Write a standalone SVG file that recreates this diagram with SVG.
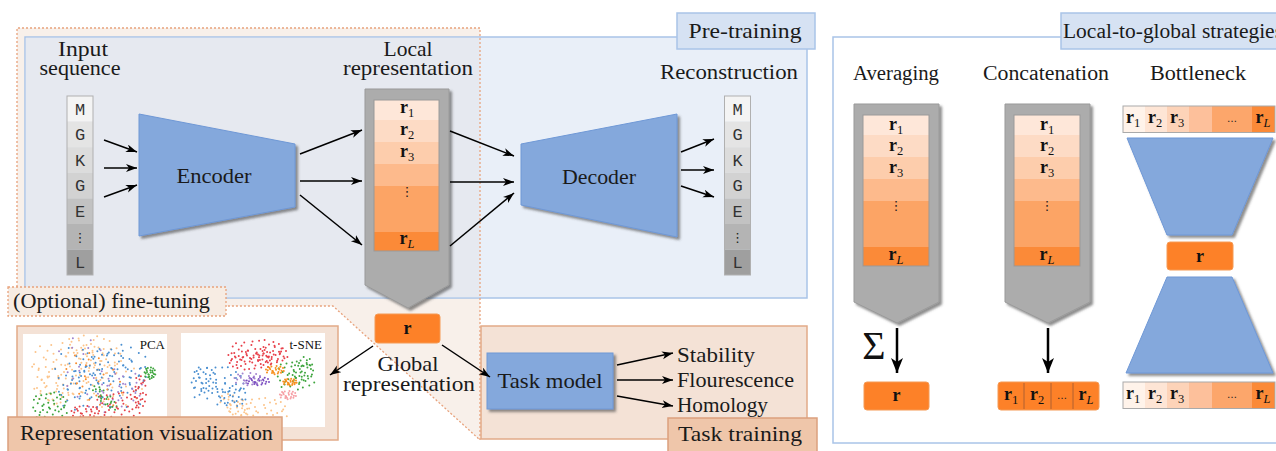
<svg xmlns="http://www.w3.org/2000/svg" xmlns:xlink="http://www.w3.org/1999/xlink" width="1276" height="451" viewBox="0 0 1276 451">
<defs>
<marker id="ah" markerUnits="userSpaceOnUse" markerWidth="12" markerHeight="10" refX="11" refY="4" orient="auto"><path d="M0,0 L11,4 L0,8 L3,4z" fill="#000"/></marker>
<marker id="ahb" markerUnits="userSpaceOnUse" markerWidth="16" markerHeight="14" refX="15" refY="6" orient="auto"><path d="M0,0 L15,6 L0,12 L4,6z" fill="#000"/></marker>
<filter id="sh" x="-10%" y="-10%" width="130%" height="130%"><feDropShadow dx="2.5" dy="2.5" stdDeviation="1" flood-color="#444" flood-opacity="0.6"/></filter>
<path id="cA" stroke-width="2" stroke-linecap="round" fill="none" vector-effect="non-scaling-stroke" d="M-3 5h0M12-8h0M-20 14h0M25 20h0M-35-10h0M8 30h0M-12-28h0M30-25h0M40 5h0M-42 18h0M18 42h0M-25-38h0M2-45h0M-8 22h0M22 2h0M-18-5h0M35 35h0M-30 32h0M45-15h0M-46-22h0M10-20h0M-5-12h0M28-40h0M-38 40h0M15 15h0M-22 0h0M5 48h0M-48 5h0M38-32h0M-15 38h0M32 12h0M-10-42h0M20-30h0M-30-25h0M0 10h0M48 25h0M-40-35h0M12-48h0M-28 22h0M42-2h0"/>
<path id="cB" stroke-width="2" stroke-linecap="round" fill="none" vector-effect="non-scaling-stroke" d="M5-3h0M-14 9h0M20-16h0M-27-20h0M33 8h0M-6 27h0M14 36h0M-36 3h0M27-33h0M-18-36h0M3-20h0M-40 25h0M40-20h0M-10 12h0M17 20h0M-24-8h0M8-40h0M30 28h0M-33-30h0M-2 42h0M44 10h0M-45-6h0M22-4h0M-15 30h0"/>
<clipPath id="cpP"><rect x="23" y="334" width="144" height="90"/></clipPath>
<clipPath id="cpT"><rect x="181" y="333" width="144" height="94"/></clipPath>
<g id="seqcells">
<rect x="0" y="0" width="26" height="25.6" fill="#f4f4f4"/>
<rect x="0" y="25.6" width="26" height="25.6" fill="#e4e4e4"/>
<rect x="0" y="51.2" width="26" height="25.6" fill="#dcdcdc"/>
<rect x="0" y="76.8" width="26" height="25.6" fill="#d2d2d2"/>
<rect x="0" y="102.4" width="26" height="25.6" fill="#c2c2c2"/>
<rect x="0" y="128" width="26" height="25.6" fill="#b4b4b4"/>
<rect x="0" y="153.6" width="26" height="25.4" fill="#9f9f9f"/>
<rect x="0" y="0" width="26" height="179" fill="none" stroke="#b0b0b0" stroke-width="1"/>
</g>
<g id="colcells">
<rect x="0" y="0" width="66" height="20" fill="#fee7d9"/>
<rect x="0" y="20" width="66" height="22" fill="#fddbc5"/>
<rect x="0" y="42" width="66" height="22" fill="#fdcdac"/>
<rect x="0" y="64" width="66" height="22" fill="#fdba8c"/>
<rect x="0" y="86" width="66" height="46" fill="#fca465"/>
<rect x="0" y="132" width="66" height="19" fill="#fb8a38"/>
<rect x="0" y="0" width="66" height="151" fill="none" stroke="#999" stroke-width="1"/>
</g>
<g id="barcells">
<rect x="0" y="0" width="22" height="26.5" fill="#fff3ea"/>
<rect x="22" y="0" width="22" height="26.5" fill="#fee5d5"/>
<rect x="44" y="0" width="22" height="26.5" fill="#fdd3b8"/>
<rect x="66" y="0" width="23" height="26.5" fill="#fdc09b"/>
<rect x="89" y="0" width="40" height="26.5" fill="#fca66b"/>
<rect x="129" y="0" width="23" height="26.5" fill="#fb8a38"/>
<rect x="0" y="0" width="152" height="26.5" fill="none" stroke="#aaa" stroke-width="1"/>
</g>
</defs>

<g id="finetune-region">
<polygon points="17,28 480,28 480,440 333,306 226,306 226,287 17,287" fill="#f8f0ea"/>
</g>
<g id="pretraining">
<rect x="25" y="37" width="782" height="261" fill="#e9eff8" stroke="#a9c4e8" stroke-width="1.5"/>
<rect x="25.8" y="37.8" width="453.7" height="259.4" fill="#e6e9f0"/>
<path d="M17,287 V28 H480 V440 L333,306 H226" fill="none" stroke="#e8a27c" stroke-width="1.3" stroke-dasharray="2 2"/>
<rect x="677" y="13" width="138" height="36" fill="#d6e2f3" stroke="#a9c4e8" stroke-width="1.5"/>
<text x="745" y="38" font-family="Liberation Serif" font-size="21" fill="#1a1a1a" text-anchor="middle" textLength="113" lengthAdjust="spacingAndGlyphs">Pre-training</text>
</g>

<g id="finetune-label">
<rect x="8" y="287" width="218" height="29" fill="#f7ece3" stroke="#e8a27c" stroke-width="1.3" stroke-dasharray="2 2"/>
<text x="13" y="308" font-family="Liberation Serif" font-size="21" fill="#1a1a1a" textLength="197" lengthAdjust="spacingAndGlyphs">(Optional) fine-tuning</text>
</g>

<g id="input">
<text x="83" y="56" font-family="Liberation Serif" font-size="21" fill="#1a1a1a" text-anchor="middle" textLength="50" lengthAdjust="spacingAndGlyphs">Input</text>
<text x="80" y="75" font-family="Liberation Serif" font-size="21" fill="#1a1a1a" text-anchor="middle" textLength="81" lengthAdjust="spacingAndGlyphs">sequence</text>
<use xlink:href="#seqcells" x="67" y="96"/>
<text x="80" y="114.5" font-family="Liberation Mono" font-size="17" fill="#333" text-anchor="middle">M</text>
<text x="80" y="140" font-family="Liberation Mono" font-size="17" fill="#333" text-anchor="middle">G</text>
<text x="80" y="165.5" font-family="Liberation Mono" font-size="17" fill="#333" text-anchor="middle">K</text>
<text x="80" y="191" font-family="Liberation Mono" font-size="17" fill="#333" text-anchor="middle">G</text>
<text x="80" y="216.5" font-family="Liberation Mono" font-size="17" fill="#333" text-anchor="middle">E</text>
<text x="80" y="242" font-family="DejaVu Sans" font-size="13" fill="#222" text-anchor="middle">⋮</text>
<text x="80" y="268" font-family="Liberation Mono" font-size="17" fill="#333" text-anchor="middle">L</text>
</g>

<g id="encoder">
<polygon filter="url(#sh)" points="139,114 295,144 295,207 139,236" fill="#84a8dc" stroke="#6f98d6" stroke-width="1"/>
<text x="214" y="183" font-family="Liberation Serif" font-size="21" fill="#1a1a1a" text-anchor="middle" textLength="75" lengthAdjust="spacingAndGlyphs">Encoder</text>
</g>

<g id="local-rep">
<text x="408" y="56" font-family="Liberation Serif" font-size="21" fill="#1a1a1a" text-anchor="middle" textLength="49" lengthAdjust="spacingAndGlyphs">Local</text>
<text x="408" y="75" font-family="Liberation Serif" font-size="21" fill="#1a1a1a" text-anchor="middle" textLength="130" lengthAdjust="spacingAndGlyphs">representation</text>
<polygon filter="url(#sh)" points="365,89 449,89 449,285 408,308 365,285" fill="#acacac" stroke="#9a9a9a" stroke-width="1"/>
<use xlink:href="#colcells" transform="translate(374,100) scale(0.985,1)"/>
<text x="407" y="113" font-family="Liberation Serif" font-size="18" font-weight="bold" fill="#111" text-anchor="middle">r<tspan font-size="12.5" font-weight="normal" dy="4">1</tspan></text>
<text x="407" y="135" font-family="Liberation Serif" font-size="18" font-weight="bold" fill="#111" text-anchor="middle">r<tspan font-size="12.5" font-weight="normal" dy="4">2</tspan></text>
<text x="407" y="157" font-family="Liberation Serif" font-size="18" font-weight="bold" fill="#111" text-anchor="middle">r<tspan font-size="12.5" font-weight="normal" dy="4">3</tspan></text>
<text x="407" y="196" font-family="DejaVu Sans" font-size="13" fill="#222" text-anchor="middle">⋮</text>
<text x="407" y="244" font-family="Liberation Serif" font-size="18" font-weight="bold" fill="#111" text-anchor="middle">r<tspan font-size="12.5" font-weight="normal" font-style="italic" dy="4">L</tspan></text>
</g>

<g id="decoder">
<polygon filter="url(#sh)" points="521,144 677,114 677,237 521,205" fill="#84a8dc" stroke="#6f98d6" stroke-width="1"/>
<text x="599" y="184" font-family="Liberation Serif" font-size="21" fill="#1a1a1a" text-anchor="middle" textLength="74" lengthAdjust="spacingAndGlyphs">Decoder</text>
</g>

<g id="reconstruction">
<text x="729" y="79" font-family="Liberation Serif" font-size="21" fill="#1a1a1a" text-anchor="middle" textLength="138" lengthAdjust="spacingAndGlyphs">Reconstruction</text>
<use xlink:href="#seqcells" x="724.5" y="96"/>
<text x="737.5" y="114.5" font-family="Liberation Mono" font-size="17" fill="#333" text-anchor="middle">M</text>
<text x="737.5" y="140" font-family="Liberation Mono" font-size="17" fill="#333" text-anchor="middle">G</text>
<text x="737.5" y="165.5" font-family="Liberation Mono" font-size="17" fill="#333" text-anchor="middle">K</text>
<text x="737.5" y="191" font-family="Liberation Mono" font-size="17" fill="#333" text-anchor="middle">G</text>
<text x="737.5" y="216.5" font-family="Liberation Mono" font-size="17" fill="#333" text-anchor="middle">E</text>
<text x="737.5" y="242" font-family="DejaVu Sans" font-size="13" fill="#222" text-anchor="middle">⋮</text>
<text x="737.5" y="268" font-family="Liberation Mono" font-size="17" fill="#333" text-anchor="middle">L</text>
</g>

<g id="rep-viz">
<rect x="17" y="326" width="321" height="114" fill="#f4e2d6" stroke="#e2aa88" stroke-width="1.5"/>
<rect x="23" y="334" width="144" height="90" fill="#fff"/>
<rect x="181" y="333" width="144" height="94" fill="#fff"/>
<g clip-path="url(#cpP)">
<use xlink:href="#cA" stroke="#fcc48a" transform="translate(70,362) scale(0.75,0.45)"/>
<use xlink:href="#cA" stroke="#fcc48a" transform="translate(95,352) rotate(30) scale(0.6,0.35)"/>
<use xlink:href="#cB" stroke="#fcc48a" transform="translate(55,390) scale(0.4,0.35)"/>
<use xlink:href="#cB" stroke="#fcc48a" transform="translate(110,385) rotate(90) scale(0.5,0.8)"/>
<use xlink:href="#cA" stroke="#fcc48a" transform="translate(65,375) rotate(70) scale(0.5,0.7)"/>
<use xlink:href="#cA" stroke="#4a8fd0" transform="translate(100,378) rotate(15) scale(0.95,0.6)"/>
<use xlink:href="#cB" stroke="#4a8fd0" transform="translate(115,368) rotate(200) scale(0.7,0.45)"/>
<use xlink:href="#cB" stroke="#4a8fd0" transform="translate(80,385) rotate(120) scale(0.6,0.4)"/>
<use xlink:href="#cA" stroke="#4a8fd0" transform="translate(110,372) rotate(250) scale(0.45,0.8)"/>
<use xlink:href="#cB" stroke="#a283cf" transform="translate(90,375) rotate(60) scale(0.9,0.6)"/>
<use xlink:href="#cB" stroke="#a283cf" transform="translate(120,390) rotate(160) scale(0.5,0.4)"/>
<use xlink:href="#cA" stroke="#3ea53e" transform="translate(50,406) scale(0.35,0.28)"/>
<use xlink:href="#cB" stroke="#3ea53e" transform="translate(150,373) scale(0.12,0.14)"/>
<use xlink:href="#cB" stroke="#3ea53e" transform="translate(105,398) rotate(45) scale(0.35,0.12)"/>
<use xlink:href="#cA" stroke="#e5444a" transform="translate(118,406) scale(0.45,0.28)"/>
<use xlink:href="#cB" stroke="#e5444a" transform="translate(140,392) rotate(90) scale(0.35,0.15)"/>
<use xlink:href="#cB" stroke="#e5444a" transform="translate(85,412) scale(0.3,0.15)"/>
<use xlink:href="#cB" stroke="#f88d30" transform="translate(95,380) rotate(45) scale(0.7,0.5)"/>
</g>
<g clip-path="url(#cpT)">
<use xlink:href="#cA" stroke="#fcc48a" transform="translate(258,410) scale(0.6,0.25)"/>
<use xlink:href="#cB" stroke="#fcc48a" transform="translate(235,405) rotate(30) scale(0.35,0.2)"/>
<use xlink:href="#cA" stroke="#e8404a" transform="translate(258,352) scale(0.55,0.25)"/>
<use xlink:href="#cA" stroke="#e8404a" transform="translate(250,360) rotate(180) scale(0.45,0.2)"/>
<use xlink:href="#cB" stroke="#e8404a" transform="translate(272,355) scale(0.35,0.2)"/>
<use xlink:href="#cA" stroke="#4a8fd0" transform="translate(218,385) rotate(10) scale(0.55,0.4)"/>
<use xlink:href="#cB" stroke="#4a8fd0" transform="translate(232,395) rotate(100) scale(0.25,0.35)"/>
<use xlink:href="#cB" stroke="#4a8fd0" transform="translate(205,380) scale(0.25,0.3)"/>
<use xlink:href="#cA" stroke="#3ea53e" transform="translate(296,375) scale(0.38,0.3)"/>
<use xlink:href="#cB" stroke="#3ea53e" transform="translate(302,370) rotate(120) scale(0.3,0.2)"/>
<use xlink:href="#cB" stroke="#7a4cc0" transform="translate(258,381) scale(0.25,0.1)"/>
<use xlink:href="#cB" stroke="#a283cf" transform="translate(248,379) scale(0.3,0.15)"/>
<use xlink:href="#cB" stroke="#f7901e" transform="translate(275,370) scale(0.2,0.1)"/>
<use xlink:href="#cB" stroke="#f7901e" transform="translate(290,382) scale(0.15,0.08)"/>
<use xlink:href="#cB" stroke="#f6a0a6" transform="translate(288,395) scale(0.18,0.1)"/>
</g>
<text x="165" y="349" font-family="Liberation Serif" font-size="13" fill="#111" text-anchor="end">PCA</text>
<text x="322" y="349" font-family="Liberation Serif" font-size="13" fill="#111" text-anchor="end">t-SNE</text>
<rect x="8" y="417" width="274" height="36" fill="#efc6aa" stroke="#dba07e" stroke-width="1.5"/>
<text x="20" y="440" font-family="Liberation Serif" font-size="21" fill="#1a1a1a" textLength="253" lengthAdjust="spacingAndGlyphs">Representation visualization</text>
</g>

<g id="global-r">
<rect x="375" y="314" width="65" height="29" rx="3" fill="#fd8128" stroke="#f59a55" stroke-width="1"/>
<text x="407.5" y="334" font-family="Liberation Serif" font-size="18" font-weight="bold" fill="#111" text-anchor="middle">r</text>
<text x="408" y="371" font-family="Liberation Serif" font-size="21" fill="#1a1a1a" text-anchor="middle" textLength="61" lengthAdjust="spacingAndGlyphs">Global</text>
<text x="409" y="391" font-family="Liberation Serif" font-size="21" fill="#1a1a1a" text-anchor="middle" textLength="132" lengthAdjust="spacingAndGlyphs">representation</text>
</g>

<g id="task-training">
<rect x="481" y="326" width="326" height="113" fill="#f4e2d6" stroke="#e2aa88" stroke-width="1.5"/>
<rect filter="url(#sh)" x="487" y="353" width="126" height="56" fill="#84a8dc" stroke="#6f98d6" stroke-width="1"/>
<text x="550" y="388" font-family="Liberation Serif" font-size="21" fill="#1a1a1a" text-anchor="middle" textLength="105" lengthAdjust="spacingAndGlyphs">Task model</text>
<text x="677" y="362" font-family="Liberation Serif" font-size="21" fill="#1a1a1a" textLength="78" lengthAdjust="spacingAndGlyphs">Stability</text>
<text x="677" y="387" font-family="Liberation Serif" font-size="21" fill="#1a1a1a" textLength="117" lengthAdjust="spacingAndGlyphs">Flourescence</text>
<text x="677" y="412" font-family="Liberation Serif" font-size="21" fill="#1a1a1a" textLength="91" lengthAdjust="spacingAndGlyphs">Homology</text>
<rect x="668" y="418" width="149" height="35" fill="#efc6aa" stroke="#dba07e" stroke-width="1.5"/>
<text x="678" y="441" font-family="Liberation Serif" font-size="21" fill="#1a1a1a" textLength="124" lengthAdjust="spacingAndGlyphs">Task training</text>
</g>

<g id="strategies">
<rect x="833" y="37" width="460" height="406" fill="#fff" stroke="#a9c4e8" stroke-width="1.5"/>
<rect x="1061" y="13" width="240" height="36" fill="#d6e2f3" stroke="#a9c4e8" stroke-width="1.5"/>
<text x="1063" y="38" font-family="Liberation Serif" font-size="20" fill="#1a1a1a" textLength="220" lengthAdjust="spacingAndGlyphs">Local-to-global strategies</text>
</g>

<g id="averaging">
<text x="896" y="80" font-family="Liberation Serif" font-size="20" fill="#1a1a1a" text-anchor="middle" textLength="86" lengthAdjust="spacingAndGlyphs">Averaging</text>
<polygon filter="url(#sh)" points="854,104 939,104 939,302 897,323 854,302" fill="#acacac" stroke="#9a9a9a" stroke-width="1"/>
<use xlink:href="#colcells" x="863" y="115"/>
<text x="896" y="130" font-family="Liberation Serif" font-size="18" font-weight="bold" fill="#111" text-anchor="middle">r<tspan font-size="12.5" font-weight="normal" dy="4">1</tspan></text>
<text x="896" y="151" font-family="Liberation Serif" font-size="18" font-weight="bold" fill="#111" text-anchor="middle">r<tspan font-size="12.5" font-weight="normal" dy="4">2</tspan></text>
<text x="896" y="173" font-family="Liberation Serif" font-size="18" font-weight="bold" fill="#111" text-anchor="middle">r<tspan font-size="12.5" font-weight="normal" dy="4">3</tspan></text>
<text x="896" y="210" font-family="DejaVu Sans" font-size="13" fill="#222" text-anchor="middle">⋮</text>
<text x="896" y="260" font-family="Liberation Serif" font-size="18" font-weight="bold" fill="#111" text-anchor="middle">r<tspan font-size="12.5" font-weight="normal" font-style="italic" dy="4">L</tspan></text>
<text x="874" y="359" font-family="Liberation Serif" font-size="40" fill="#111" text-anchor="middle">Σ</text>
<rect x="864" y="382" width="65" height="28" rx="3" fill="#fd8128" stroke="#f59a55" stroke-width="1"/>
<text x="896.5" y="401" font-family="Liberation Serif" font-size="18" font-weight="bold" fill="#111" text-anchor="middle">r</text>
</g>

<g id="concatenation">
<text x="1046" y="80" font-family="Liberation Serif" font-size="20" fill="#1a1a1a" text-anchor="middle" textLength="126" lengthAdjust="spacingAndGlyphs">Concatenation</text>
<polygon filter="url(#sh)" points="1005,104 1090,104 1090,302 1048,323 1005,302" fill="#acacac" stroke="#9a9a9a" stroke-width="1"/>
<use xlink:href="#colcells" x="1014" y="115"/>
<text x="1047" y="130" font-family="Liberation Serif" font-size="18" font-weight="bold" fill="#111" text-anchor="middle">r<tspan font-size="12.5" font-weight="normal" dy="4">1</tspan></text>
<text x="1047" y="151" font-family="Liberation Serif" font-size="18" font-weight="bold" fill="#111" text-anchor="middle">r<tspan font-size="12.5" font-weight="normal" dy="4">2</tspan></text>
<text x="1047" y="173" font-family="Liberation Serif" font-size="18" font-weight="bold" fill="#111" text-anchor="middle">r<tspan font-size="12.5" font-weight="normal" dy="4">3</tspan></text>
<text x="1047" y="210" font-family="DejaVu Sans" font-size="13" fill="#222" text-anchor="middle">⋮</text>
<text x="1047" y="260" font-family="Liberation Serif" font-size="18" font-weight="bold" fill="#111" text-anchor="middle">r<tspan font-size="12.5" font-weight="normal" font-style="italic" dy="4">L</tspan></text>
<rect x="998" y="382" width="101" height="28" rx="3" fill="#fd8128" stroke="#f59a55" stroke-width="1"/>
<path d="M1024,383 V409 M1051,383 V409 M1073,383 V409" stroke="#b06030" stroke-width="1"/>
<text x="1011" y="400" font-family="Liberation Serif" font-size="18" font-weight="bold" fill="#111" text-anchor="middle">r<tspan font-size="12.5" font-weight="normal" dy="4">1</tspan></text>
<text x="1037" y="400" font-family="Liberation Serif" font-size="18" font-weight="bold" fill="#111" text-anchor="middle">r<tspan font-size="12.5" font-weight="normal" dy="4">2</tspan></text>
<text x="1062" y="399" font-family="DejaVu Sans" font-size="10" fill="#222" text-anchor="middle">…</text>
<text x="1086" y="400" font-family="Liberation Serif" font-size="18" font-weight="bold" fill="#111" text-anchor="middle">r<tspan font-size="12.5" font-weight="normal" font-style="italic" dy="4">L</tspan></text>
</g>

<g id="bottleneck">
<text x="1198" y="80" font-family="Liberation Serif" font-size="20" fill="#1a1a1a" text-anchor="middle" textLength="96" lengthAdjust="spacingAndGlyphs">Bottleneck</text>
<use xlink:href="#barcells" x="1123" y="106"/>
<text x="1133" y="123" font-family="Liberation Serif" font-size="18" font-weight="bold" fill="#111" text-anchor="middle">r<tspan font-size="12.5" font-weight="normal" dy="4">1</tspan></text>
<text x="1155" y="123" font-family="Liberation Serif" font-size="18" font-weight="bold" fill="#111" text-anchor="middle">r<tspan font-size="12.5" font-weight="normal" dy="4">2</tspan></text>
<text x="1177" y="123" font-family="Liberation Serif" font-size="18" font-weight="bold" fill="#111" text-anchor="middle">r<tspan font-size="12.5" font-weight="normal" dy="4">3</tspan></text>
<text x="1232" y="122" font-family="DejaVu Sans" font-size="10" fill="#222" text-anchor="middle">…</text>
<text x="1263" y="123" font-family="Liberation Serif" font-size="18" font-weight="bold" fill="#111" text-anchor="middle">r<tspan font-size="12.5" font-weight="normal" font-style="italic" dy="4">L</tspan></text>
<polygon filter="url(#sh)" points="1127,138 1273,138 1232,235 1167,235" fill="#84a8dc" stroke="#6f98d6" stroke-width="1"/>
<rect x="1167" y="242" width="66" height="28" rx="3" fill="#fd8128" stroke="#f59a55" stroke-width="1"/>
<text x="1200" y="262" font-family="Liberation Serif" font-size="18" font-weight="bold" fill="#111" text-anchor="middle">r</text>
<polygon filter="url(#sh)" points="1167,277 1232,277 1273,373 1126,373" fill="#84a8dc" stroke="#6f98d6" stroke-width="1"/>
<use xlink:href="#barcells" x="1123" y="382"/>
<text x="1133" y="399" font-family="Liberation Serif" font-size="18" font-weight="bold" fill="#111" text-anchor="middle">r<tspan font-size="12.5" font-weight="normal" dy="4">1</tspan></text>
<text x="1155" y="399" font-family="Liberation Serif" font-size="18" font-weight="bold" fill="#111" text-anchor="middle">r<tspan font-size="12.5" font-weight="normal" dy="4">2</tspan></text>
<text x="1177" y="399" font-family="Liberation Serif" font-size="18" font-weight="bold" fill="#111" text-anchor="middle">r<tspan font-size="12.5" font-weight="normal" dy="4">3</tspan></text>
<text x="1232" y="398" font-family="DejaVu Sans" font-size="10" fill="#222" text-anchor="middle">…</text>
<text x="1263" y="399" font-family="Liberation Serif" font-size="18" font-weight="bold" fill="#111" text-anchor="middle">r<tspan font-size="12.5" font-weight="normal" font-style="italic" dy="4">L</tspan></text>
</g>

<g id="connectors" stroke="#000" fill="none">
<g stroke-width="1.5" marker-end="url(#ah)">
<line x1="104" y1="140" x2="137" y2="152"/>
<line x1="104" y1="168" x2="137" y2="168"/>
<line x1="104" y1="197" x2="137" y2="185"/>
<line x1="300" y1="154" x2="362" y2="130"/>
<line x1="300" y1="181" x2="362" y2="181"/>
<line x1="300" y1="195" x2="362" y2="245"/>
<line x1="450" y1="131" x2="514" y2="156"/>
<line x1="450" y1="182" x2="514" y2="182"/>
<line x1="450" y1="246" x2="514" y2="193"/>
<line x1="681" y1="152" x2="714" y2="139"/>
<line x1="681" y1="170" x2="714" y2="170"/>
<line x1="681" y1="186" x2="714" y2="197"/>
<line x1="373" y1="346" x2="330" y2="375"/>
<line x1="442" y1="345" x2="490" y2="377"/>
<line x1="617" y1="365" x2="673" y2="353"/>
<line x1="617" y1="380" x2="673" y2="380"/>
<line x1="617" y1="396" x2="673" y2="406"/>
</g>
<g stroke-width="2.5" marker-end="url(#ahb)">
<line x1="897" y1="328" x2="897" y2="373"/>
<line x1="1048" y1="328" x2="1048" y2="373"/>
</g>
</g>
</svg>
